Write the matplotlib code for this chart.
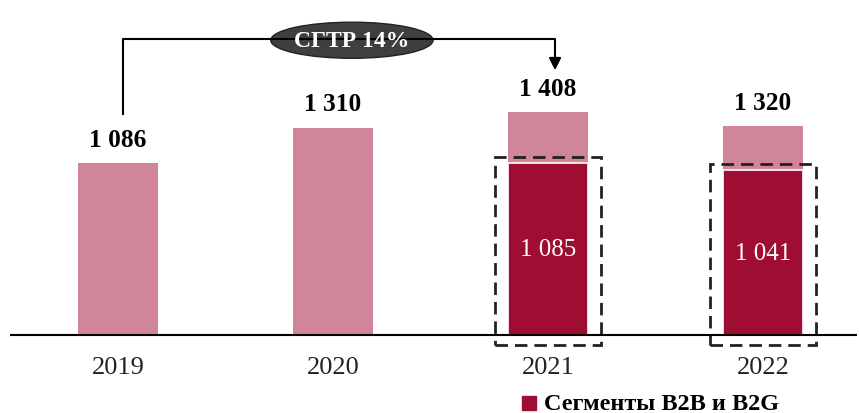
import matplotlib.pyplot as plt
from matplotlib.patches import Rectangle, Ellipse

# data
years = ['2019', '2020', '2021', '2022']
totals = [1086, 1310, 1408, 1320]
b2b_years = [2, 3]           # indexes of bars with segment split
b2b_values = [1085, 1041]
total_labels = ['1 086', '1 310', '1 408', '1 320']
b2b_labels = ['1 085', '1 041']
cagr_text = 'СГТР 14%'
legend_text = 'Сегменты B2B и B2G'

light = '#D08698'
dark = '#A00D32'

plt.rcParams['font.family'] = ['Liberation Serif', 'DejaVu Serif']

fig = plt.figure(figsize=(8.59, 4.14), dpi=100)
ax = fig.add_axes([0, 0, 1, 1])
ax.set_xlim(-0.549, 3.447)
ax.set_ylim(-492.7, 2122.5)
ax.axis('off')

x = list(range(len(years)))
ax.bar(x, totals, width=0.375, color=light, edgecolor='white', linewidth=0)
ax.bar(b2b_years, b2b_values, width=0.375, color=dark, edgecolor='white', linewidth=1.2)

# baseline
ax.plot([-0.503, 3.44], [0, 0], color='black', lw=1.5, solid_capstyle='butt')

# labels
for xi, v, lab in zip(x, totals, total_labels):
    ax.text(xi, v + 150, lab, ha='center', va='center', fontsize=18.3, fontweight='bold')
for xi, v, lab in zip(b2b_years, b2b_values, b2b_labels):
    ax.text(xi, v / 2, lab, ha='center', va='center', fontsize=18, color='white')
for xi, y in zip(x, years):
    ax.text(xi, -200, y, ha='center', va='center', fontsize=19, color='#222222')

# dashed boxes
for xi, v in zip(b2b_years, b2b_values):
    ax.add_patch(Rectangle((xi - 0.245, -63), 0.49, v + 105, fill=False,
                           edgecolor='#222222', lw=2, ls=(0, (4.5, 2.5))))

# CAGR bracket
ax.plot([0.023, 0.023, 2.033, 2.033], [1396, 1870, 1870, 1720], color='black', lw=1.5)
ax.annotate('', xy=(2.033, 1655), xytext=(2.033, 1730),
            arrowprops=dict(arrowstyle='-|>', color='black', lw=1.5, mutation_scale=18))
ax.add_patch(Ellipse((1.088, 1862), 0.755, 228, facecolor='#3f3f3f', edgecolor='#222222', lw=1))
ax.text(1.088, 1862, cagr_text, ha='center', va='center', fontsize=17,
        fontweight='bold', color='white')

# legend
ax.plot([1.91], [-431], marker='s', ms=10, color=dark, ls='none')
ax.text(1.98, -431, legend_text, ha='left', va='center', fontsize=17.5, fontweight='bold')

fig.savefig('out.png', dpi=100)
